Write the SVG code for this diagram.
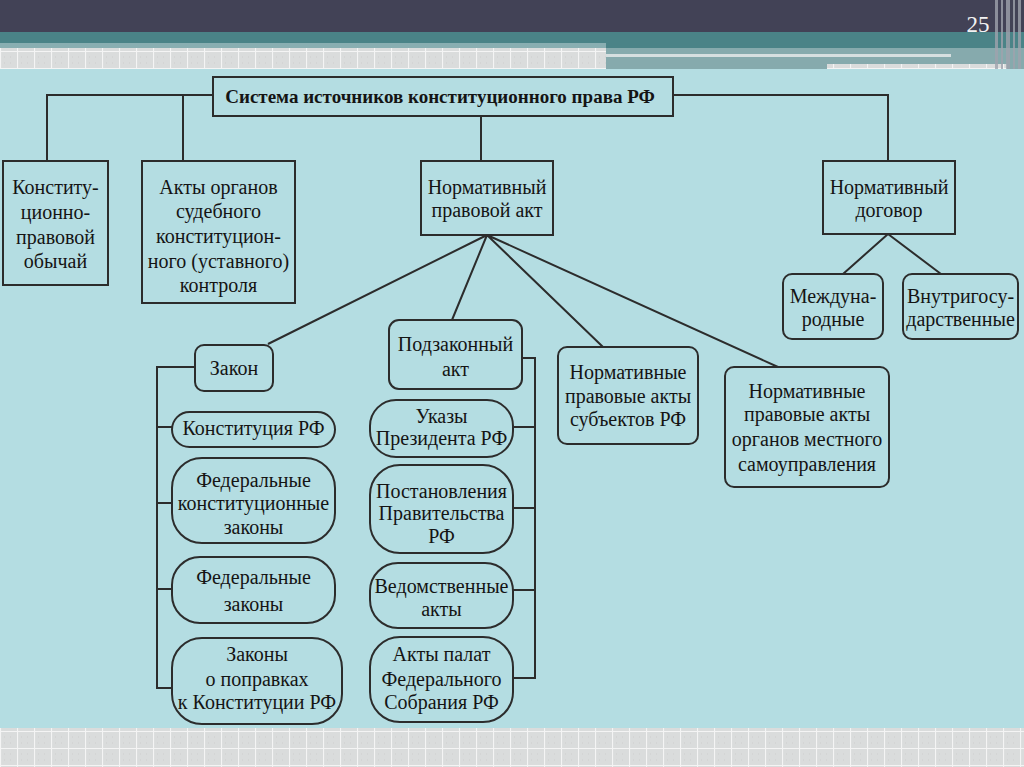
<svg xmlns="http://www.w3.org/2000/svg" width="1024" height="767" viewBox="0 0 1024 767">
<defs>
<pattern id="grid" x="0" y="0" width="17" height="17" patternUnits="userSpaceOnUse">
<rect width="17" height="17" fill="#dadcdc"/>
<path d="M0 0.5H17M0.5 0V17" stroke="#f4f4f4" stroke-width="1.2"/>
<path d="M4 6h1M10 6h1M4 12h1M10 12h1" stroke="#cfcfcf" stroke-width="1"/>
</pattern>
<style>
.n{fill:none;stroke:#2c2c2c;stroke-width:2}
.c{fill:none;stroke:#2c2c2c;stroke-width:2}
.t{font-family:"Liberation Serif","Times New Roman",serif;font-size:20px;fill:#141414;text-anchor:middle}
.b{font-weight:bold;font-size:19px}
</style>
</defs>
<!-- background -->
<rect x="0" y="0" width="1024" height="767" fill="#b4dde2"/>
<!-- header -->
<rect x="0" y="0" width="1024" height="33" fill="#424256"/>
<rect x="0" y="32" width="1024" height="17" fill="#4a8387"/>
<rect x="0" y="43" width="606" height="6" fill="#88aeb1"/>
<rect x="0" y="48" width="606" height="21" fill="url(#grid)"/>
<rect x="606" y="48" width="418" height="21" fill="#86aaad"/>
<rect x="606" y="54" width="345" height="3" fill="#d6dfe0"/>
<rect x="827" y="64" width="180" height="5" fill="url(#grid)"/>
<g fill="#9fa3ad" opacity="0.8">
<rect x="995" y="0" width="3" height="69"/>
<rect x="1001" y="0" width="2" height="69"/>
<rect x="1006" y="0" width="4" height="69"/>
<rect x="1013" y="0" width="2" height="69"/>
<rect x="1018" y="0" width="3" height="69"/>
</g>
<text x="978" y="32" font-family="Liberation Serif, serif" font-size="23" fill="#f2f2f2" text-anchor="middle">25</text>
<!-- bottom grid -->
<rect x="0" y="728" width="1024" height="39" fill="url(#grid)"/>

<!-- connectors -->
<g id="connectors">
<path class="c" d="M213 95H47V161M183 95V161"/>
<path class="c" d="M481 116V161"/>
<path class="c" d="M673 95H888V161"/>
<path class="c" d="M487 235L268 344M487 235L452 320M487 235L603 347M487 235L778 367"/>
<path class="c" d="M888 234L843 274M888 234L941 274"/>
<path class="c" d="M195 367H157V688H172M157 427H172M157 503H172M157 589H172"/>
<path class="c" d="M522 358H535V678H513M513 427H535M513 508H535M513 590H535"/>
</g>

<g id="title">
<rect class="n" x="213" y="77" width="460" height="39"/>
<text class="t b" x="440" y="103">Система источников конституционного права РФ</text>
</g>
<g id="custom">
<rect class="n" x="3" y="161" width="105" height="124"/>
<text class="t" x="55.5" y="194">Конститу-</text>
<text class="t" x="55.5" y="219">ционно-</text>
<text class="t" x="55.5" y="244">правовой</text>
<text class="t" x="55.5" y="268">обычай</text>
</g>
<g id="court">
<rect class="n" x="142" y="161" width="153" height="142"/>
<text class="t" x="218.5" y="194">Акты органов</text>
<text class="t" x="218.5" y="218">судебного</text>
<text class="t" x="218.5" y="243">конституцион-</text>
<text class="t" x="218.5" y="268">ного (уставного)</text>
<text class="t" x="218.5" y="292">контроля</text>
</g>
<g id="npa">
<rect class="n" x="421" y="161" width="132" height="74"/>
<text class="t" x="487" y="194">Нормативный</text>
<text class="t" x="487" y="217">правовой акт</text>
</g>
<g id="treaty">
<rect class="n" x="823" y="161" width="132" height="73"/>
<text class="t" x="889" y="194">Нормативный</text>
<text class="t" x="889" y="217">договор</text>
</g>
<g id="intl">
<rect class="n" x="783" y="274" width="100" height="65" rx="9"/>
<text class="t" x="833" y="303">Междуна-</text>
<text class="t" x="833" y="326">родные</text>
</g>
<g id="domestic">
<rect class="n" x="903" y="274" width="115" height="65" rx="9"/>
<text class="t" x="960.5" y="303">Внутригосу-</text>
<text class="t" x="960.5" y="326">дарственные</text>
</g>
<g id="law">
<rect class="n" x="195" y="345" width="78" height="46" rx="9"/>
<text class="t" x="234" y="375">Закон</text>
</g>
<g id="constitution">
<rect class="n" x="172" y="412" width="163" height="35" rx="17.5"/>
<text class="t" x="253.5" y="435">Конституция РФ</text>
</g>
<g id="fkz">
<rect class="n" x="172" y="458" width="163" height="85" rx="30"/>
<text class="t" x="253.5" y="487">Федеральные</text>
<text class="t" x="253.5" y="510">конституционные</text>
<text class="t" x="253.5" y="534">законы</text>
</g>
<g id="fz">
<rect class="n" x="172" y="557" width="163" height="66" rx="28"/>
<text class="t" x="253.5" y="584">Федеральные</text>
<text class="t" x="253.5" y="611">законы</text>
</g>
<g id="amend">
<rect class="n" x="172" y="638" width="170" height="86" rx="30"/>
<text class="t" x="257" y="661">Законы</text>
<text class="t" x="257" y="686">о поправках</text>
<text class="t" x="257" y="709">к Конституции РФ</text>
</g>
<g id="bylaw">
<rect class="n" x="389" y="320" width="133" height="69" rx="10"/>
<text class="t" x="455.5" y="351">Подзаконный</text>
<text class="t" x="455.5" y="376">акт</text>
</g>
<g id="decrees">
<rect class="n" x="370" y="400" width="143" height="57" rx="26"/>
<text class="t" x="441.5" y="423">Указы</text>
<text class="t" x="441.5" y="445">Президента РФ</text>
</g>
<g id="resolutions">
<rect class="n" x="370" y="465" width="143" height="88" rx="30"/>
<text class="t" x="441.5" y="498">Постановления</text>
<text class="t" x="441.5" y="520">Правительства</text>
<text class="t" x="441.5" y="543">РФ</text>
</g>
<g id="departmental">
<rect class="n" x="370" y="563" width="143" height="65" rx="28"/>
<text class="t" x="441.5" y="593">Ведомственные</text>
<text class="t" x="441.5" y="616">акты</text>
</g>
<g id="chambers">
<rect class="n" x="370" y="637" width="143" height="85" rx="30"/>
<text class="t" x="441.5" y="661">Акты палат</text>
<text class="t" x="441.5" y="686">Федерального</text>
<text class="t" x="441.5" y="709">Собрания РФ</text>
</g>
<g id="subjects">
<rect class="n" x="558" y="347" width="140" height="97" rx="9"/>
<text class="t" x="628" y="379">Нормативные</text>
<text class="t" x="628" y="403">правовые акты</text>
<text class="t" x="628" y="426">субъектов РФ</text>
</g>
<g id="local">
<rect class="n" x="725" y="367" width="164" height="120" rx="9"/>
<text class="t" x="807" y="398">Нормативные</text>
<text class="t" x="807" y="421">правовые акты</text>
<text class="t" x="807" y="446">органов местного</text>
<text class="t" x="807" y="471">самоуправления</text>
</g>
</svg>
